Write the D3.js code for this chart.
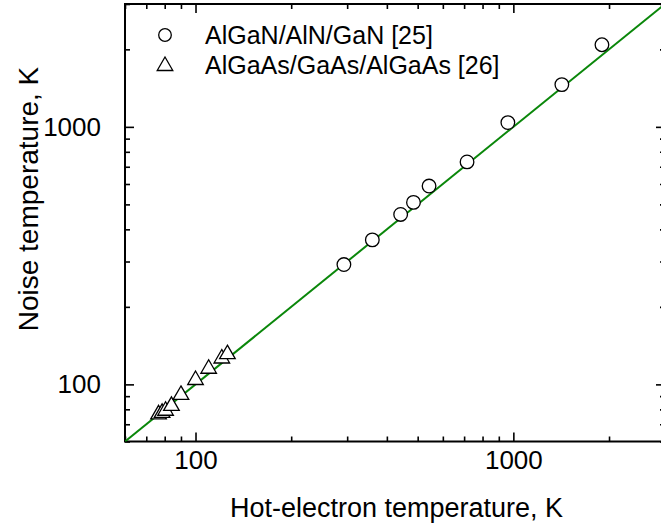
<!DOCTYPE html>
<html><head><meta charset="utf-8">
<script src="https://cdn.jsdelivr.net/npm/d3@7"></script>
<style>
html,body{margin:0;padding:0;background:#fff;}
text{font-family:"Liberation Sans",Arial,sans-serif;fill:#000;}
</style></head>
<body>
<svg id="chart" width="661" height="527"></svg>
<script>
// Data
const ganX = [293, 360, 442, 485, 543, 715, 961, 1421, 1900];
const ganY = [292, 364, 457, 509, 589, 731, 1039, 1459, 2084];
const gaasX = [76.5, 78.5, 80.5, 84, 90, 100, 110, 121, 126];
const gaasY = [76.5, 77.5, 79, 82.5, 91, 104, 115, 126, 131];
const fitLine = [60, 3000];
const majorTicks = [100, 1000];
const minorTicks = [60, 70, 80, 90, 200, 300, 400, 500, 600, 700, 800, 900, 2000, 3000];
const legendLabels = ["AlGaN/AlN/GaN [25]", "AlGaAs/GaAs/AlGaAs [26]"];
const xTitle = "Hot-electron temperature, K";
const yTitle = "Noise temperature, K";

const svg = d3.select("#chart");
const L = 125, R = 665, T = 4, B = 441.5;
const x = d3.scaleLog().domain([60, 3000]).range([L, R]);
const y = d3.scaleLog().domain([60, 3000]).range([B, T]);

const fmt = d => String(d);
function addAxis(gen, tx, ty, labels) {
  const g = svg.append("g").attr("transform", `translate(${tx},${ty})`);
  g.call(gen);
  g.select(".domain").remove();
  g.selectAll("line").attr("stroke", "#000").attr("stroke-width", 1.6);
  if (!labels) g.selectAll("text").remove();
  return g;
}
const bx = addAxis(d3.axisBottom(x).tickValues(majorTicks).tickSize(-9).tickPadding(20).tickFormat(fmt), 0, B, true);
bx.selectAll("text").attr("font-size", 26).attr("dy", "0.3em").attr("font-family", null);
addAxis(d3.axisBottom(x).tickValues(minorTicks).tickSize(-5).tickFormat(""), 0, B, false);
addAxis(d3.axisTop(x).tickValues(majorTicks).tickSize(-9).tickFormat(""), 0, T, false);
addAxis(d3.axisTop(x).tickValues(minorTicks).tickSize(-5).tickFormat(""), 0, T, false);
const ly = addAxis(d3.axisLeft(y).tickValues(majorTicks).tickSize(-9).tickPadding(24).tickFormat(fmt), L, 0, true);
ly.selectAll("text").attr("font-size", 26).attr("font-family", null);
addAxis(d3.axisLeft(y).tickValues(minorTicks).tickSize(-5).tickFormat(""), L, 0, false);
addAxis(d3.axisRight(y).tickValues(majorTicks).tickSize(-9).tickFormat(""), R, 0, false);
addAxis(d3.axisRight(y).tickValues(minorTicks).tickSize(-5).tickFormat(""), R, 0, false);

svg.append("rect").attr("x", L).attr("y", T).attr("width", R - L).attr("height", B - T)
  .attr("fill", "none").attr("stroke", "#000").attr("stroke-width", 2);

svg.append("clipPath").attr("id", "clip").append("rect")
  .attr("x", L).attr("y", T).attr("width", R - L).attr("height", B - T);

svg.append("line").attr("clip-path", "url(#clip)")
  .attr("x1", x(fitLine[0])).attr("y1", y(fitLine[0]))
  .attr("x2", x(fitLine[1])).attr("y2", y(fitLine[1]))
  .attr("stroke", "#0a870a").attr("stroke-width", 2);

svg.append("g").selectAll("circle").data(ganX.map((v, i) => [v, ganY[i]])).join("circle")
  .attr("cx", d => x(d[0])).attr("cy", d => y(d[1])).attr("r", 6.8)
  .attr("fill", "#fff").attr("stroke", "#000").attr("stroke-width", 1.3);

const tri = d3.symbol().type(d3.symbolTriangle).size(105);
svg.append("g").selectAll("path").data(gaasX.map((v, i) => [v, gaasY[i]])).join("path")
  .attr("d", tri)
  .attr("transform", d => `translate(${x(d[0])},${y(d[1])})`)
  .attr("fill", "#fff").attr("stroke", "#000").attr("stroke-width", 1.3);

const lg = svg.append("g");
lg.append("circle").attr("cx", 165).attr("cy", 35).attr("r", 6.3)
  .attr("fill", "#fff").attr("stroke", "#000").attr("stroke-width", 1.3);
lg.append("path").attr("d", tri).attr("transform", "translate(165,66)")
  .attr("fill", "#fff").attr("stroke", "#000").attr("stroke-width", 1.3);
lg.selectAll("text").data(legendLabels).join("text")
  .attr("x", 205).attr("y", (d, i) => 35 + i * 30).attr("dy", "0.35em")
  .attr("font-size", 25).text(d => d);

svg.append("text").attr("x", (230 + 563) / 2).attr("y", 508).attr("dy", "0.35em")
  .attr("text-anchor", "middle").attr("font-size", 27).text(xTitle);
svg.append("text").attr("transform", "translate(28,199) rotate(-90)").attr("dy", "0.35em")
  .attr("text-anchor", "middle").attr("font-size", 28).text(yTitle);
</script>
</body></html>
